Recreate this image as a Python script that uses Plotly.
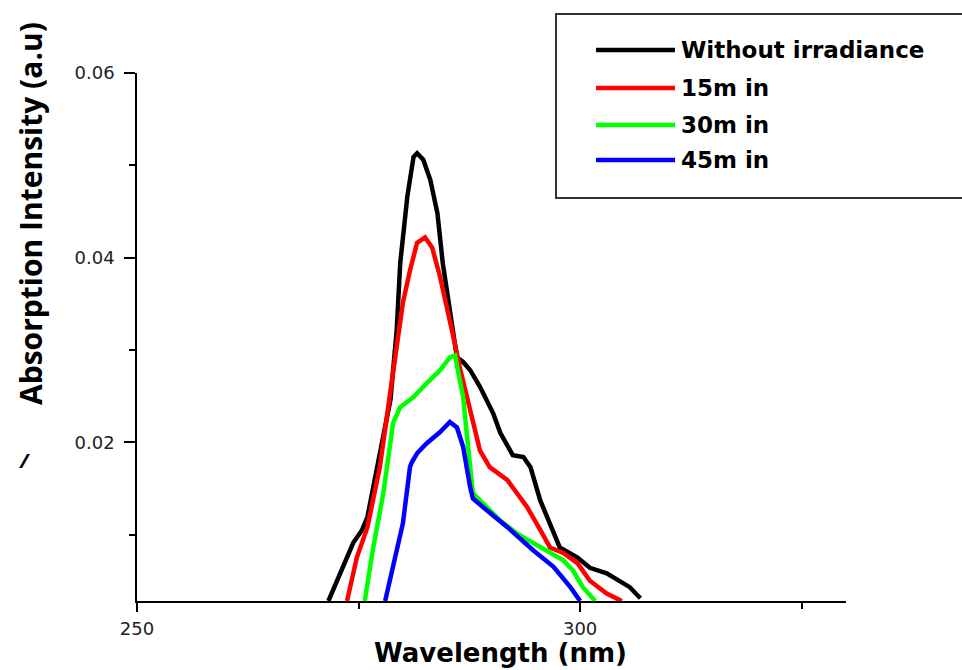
import plotly.graph_objects as go

# ---- data ----
wl_without = [271.6, 274.4, 275.4, 276.0, 277.1, 278.6, 279.3, 279.7, 280.5, 281.2, 281.6, 282.3,
              283.1, 283.9, 284.5, 285.3, 286.1, 286.8, 287.6, 288.7, 290.2, 291.0, 292.4, 293.6,
              294.4, 295.5, 297.0, 297.7, 299.7, 301.1, 303.0, 304.5, 305.6, 306.8]
ab_without = [0.0028, 0.0091, 0.0105, 0.0119, 0.0173, 0.0246, 0.0321, 0.0394, 0.0466, 0.0509, 0.0513, 0.0506,
              0.0484, 0.0448, 0.0394, 0.0340, 0.0292, 0.0287, 0.0278, 0.0260, 0.0231, 0.0210, 0.0186, 0.0184,
              0.0173, 0.0137, 0.0101, 0.0086, 0.0075, 0.0064, 0.0058, 0.0050, 0.0043, 0.0031]

wl_15 = [273.7, 274.8, 276.0, 277.4, 278.3, 279.3, 280.0, 280.8, 281.6, 282.5, 283.3, 284.2, 285.0,
         285.7, 286.5, 287.2, 287.8, 288.7, 289.8, 291.8, 292.4, 294.0, 295.5, 296.6, 298.1, 299.7,
         301.1, 303.0, 304.7]
ab_15 = [0.0028, 0.0075, 0.0108, 0.0173, 0.0235, 0.0303, 0.0351, 0.0386, 0.0416, 0.0422, 0.0411, 0.0379, 0.0346,
         0.0314, 0.0278, 0.0249, 0.0224, 0.0191, 0.0173, 0.0159, 0.0151, 0.0130, 0.0105, 0.0086, 0.0080, 0.0069,
         0.0050, 0.0036, 0.0028]

wl_30 = [275.7, 276.6, 277.8, 278.9, 279.7, 281.2, 282.7, 284.2, 285.3, 285.9, 286.2, 286.8, 287.4,
         287.9, 288.7, 291.0, 292.9, 294.7, 296.6, 298.1, 299.2, 300.3, 301.7]
ab_30 = [0.0028, 0.0083, 0.0145, 0.0221, 0.0238, 0.0249, 0.0264, 0.0278, 0.0292, 0.0294, 0.0278, 0.0249, 0.0191,
         0.0145, 0.0137, 0.0115, 0.0101, 0.0091, 0.0080, 0.0072, 0.0061, 0.0043, 0.0028]

wl_45 = [278.0, 278.9, 280.0, 280.8, 281.0, 281.6, 282.7, 284.2, 285.3, 286.1, 286.8, 287.6, 287.9,
         289.5, 291.8, 294.7, 297.0, 298.9, 300.0]
ab_45 = [0.0028, 0.0065, 0.0112, 0.0173, 0.0178, 0.0188, 0.0199, 0.0211, 0.0222, 0.0216, 0.0195, 0.0151, 0.0139,
         0.0126, 0.0108, 0.0083, 0.0065, 0.0043, 0.0028]

series_names = ["Without irradiance", "15m in", "30m in", "45m in"]
series_colors = ["#000000", "#ff0000", "#00ff00", "#0000ff"]
series_x = [wl_without, wl_15, wl_30, wl_45]
series_y = [ab_without, ab_15, ab_30, ab_45]

x_range = [250, 330]
y_range = [0.0028, 0.06]

fig = go.Figure()
for name, col, xs, ys in zip(series_names, series_colors, series_x, series_y):
    fig.add_trace(go.Scatter(x=xs, y=ys, mode="lines", name=name,
                             line=dict(color=col, width=4.5), showlegend=False))

L, R, T, B = 137, 116, 73, 69
W, H = 962, 670
pw, ph = W - L - R, H - T - B

def px(x):
    return (x - L) / pw

def py(y):
    return (H - B - y) / ph

TITLE_FONT = "Open Sans, Noto Sans, Arial"
WIDE_FONT = "DejaVu Sans, Verdana"

# custom legend box
shapes = [dict(type="rect", xref="paper", yref="paper",
               x0=px(556), x1=px(968), y0=py(198), y1=py(14),
               line=dict(color="#333333", width=2), fillcolor="white", layer="above")]
annotations = []
legend_rows = [50, 88, 125, 160]
for name, col, ry in zip(series_names, series_colors, legend_rows):
    shapes.append(dict(type="line", xref="paper", yref="paper",
                       x0=px(596), x1=px(675), y0=py(ry), y1=py(ry),
                       line=dict(color=col, width=4.5), layer="above"))
    annotations.append(dict(xref="paper", yref="paper", x=px(679), y=py(ry),
                            xanchor="left", yanchor="middle", showarrow=False,
                            text="<b>%s</b>" % name,
                            font=dict(family=WIDE_FONT, size=23, color="black")))

annotations.append(dict(xref="paper", yref="paper", x=px(500), y=py(653),
                        xanchor="center", yanchor="middle", showarrow=False,
                        text="<b>Wavelength (nm)</b>",
                        font=dict(family=WIDE_FONT, size=26, color="black")))
annotations.append(dict(xref="paper", yref="paper", x=px(30), y=py(214),
                        xanchor="center", yanchor="middle", showarrow=False, textangle=-90,
                        text="<b>Absorption Intensity (a.u)</b>",
                        font=dict(family=TITLE_FONT, size=30, color="black")))
annotations.append(dict(xref="paper", yref="paper", x=px(24), y=py(460),
                        xanchor="center", yanchor="middle", showarrow=False,
                        text="<b><i>/</i></b>",
                        font=dict(family=TITLE_FONT, size=20, color="black")))

tickfont = dict(family=WIDE_FONT, size=18, color="#222222")

fig.update_layout(
    width=W, height=H,
    margin=dict(l=L, r=R, t=T, b=B, pad=0),
    paper_bgcolor="white", plot_bgcolor="white",
    shapes=shapes, annotations=annotations,
    xaxis=dict(range=x_range, tick0=250, dtick=50, ticks="outside", ticklen=9, tickwidth=1.5,
               tickcolor="black", showline=True, linecolor="black", linewidth=1.5,
               showgrid=False, zeroline=False, tickfont=tickfont, ticklabelstandoff=2,
               minor=dict(dtick=25, tick0=250, ticks="outside", ticklen=6, tickcolor="black", tickwidth=1.5,
                          showgrid=False)),
    yaxis=dict(range=y_range, tick0=0, dtick=0.02, tickformat=".2f", ticks="outside", ticklen=11,
               tickwidth=1.5, tickcolor="black", showline=True, linecolor="black", linewidth=1.5,
               showgrid=False, zeroline=False, tickfont=tickfont, ticklabelstandoff=6,
               minor=dict(dtick=0.01, tick0=0, ticks="outside", ticklen=6, tickcolor="black", tickwidth=1.5,
                          showgrid=False)),
)

fig.write_html("out.html")
